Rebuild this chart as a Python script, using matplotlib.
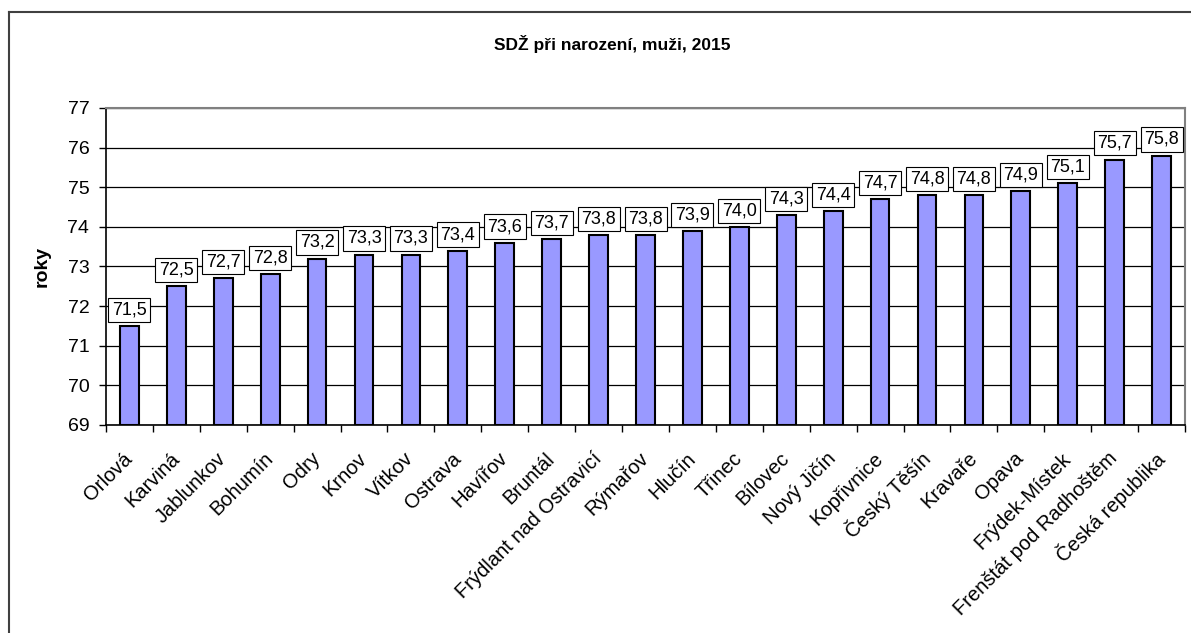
import numpy as np
import matplotlib.pyplot as plt
from matplotlib.lines import Line2D

plt.rcParams['font.family'] = ['Liberation Sans', 'DejaVu Sans']

OUTFILE = "out.png"

# ---------------- Data ----------------
regions = ["Orlová", "Karviná", "Jablunkov", "Bohumín", "Odry", "Krnov", "Vítkov",
           "Ostrava", "Havířov", "Bruntál", "Frýdlant nad Ostravicí", "Rýmařov",
           "Hlučín", "Třinec", "Bílovec", "Nový Jičín", "Kopřivnice", "Český Těšín",
           "Kravaře", "Opava", "Frýdek-Místek", "Frenštát pod Radhoštěm", "Česká republika"]
life_exp = [71.5, 72.5, 72.7, 72.8, 73.2, 73.3, 73.3, 73.4, 73.6, 73.7, 73.8, 73.8,
            73.9, 74.0, 74.3, 74.4, 74.7, 74.8, 74.8, 74.9, 75.1, 75.7, 75.8]
y_ticks = [69, 70, 71, 72, 73, 74, 75, 76, 77]

TITLE = "SDŽ při narození, muži, 2015"
YLABEL = "roky"

# ---------------- Plot ----------------
fig = plt.figure(figsize=(11.91, 6.33), dpi=100)
ax = fig.add_axes([0.089, 0.3286, 0.906, 0.5008])

x = np.arange(len(regions))
ax.bar(x, np.array(life_exp) - 69, bottom=69, width=0.4, color="#9999FF",
       edgecolor="black", linewidth=1.5, zorder=3)

# value labels in small white boxes
for xi, v in zip(x, life_exp):
    ax.annotate(f"{v:.1f}".replace(".", ","), (xi, v), xytext=(0, 5.5),
                textcoords="offset points", ha="center", va="bottom", fontsize=13,
                bbox=dict(boxstyle="square,pad=0.2", fc="white", ec="black", lw=0.8),
                zorder=4)

ax.set_xlim(-0.5, len(regions) - 0.5)
ax.set_ylim(69, 77)
ax.set_yticks(y_ticks)
ax.tick_params(axis="y", labelsize=14, length=5, direction="out", width=1, pad=7)
ax.yaxis.grid(True, color="black", linewidth=0.9, zorder=0)
ax.set_axisbelow(True)

# ticks at the category boundaries, labels at centres
ax.set_xticks(np.arange(-0.5, len(regions), 1.0))
ax.set_xticklabels([])
ax.set_xticks(x, minor=True)
ax.set_xticklabels(regions, minor=True, rotation=45, ha="right", va="center",
                   rotation_mode="anchor", fontsize=14.5)
ax.tick_params(axis="x", which="minor", length=0, pad=22)
ax.tick_params(axis="x", which="major", length=5, width=1)

for side in ["top", "right"]:
    ax.spines[side].set_color("#808080")
    ax.spines[side].set_linewidth(1.5)
for side in ["left", "bottom"]:
    ax.spines[side].set_color("black")
    ax.spines[side].set_linewidth(1.2)

ax.set_ylabel(YLABEL, fontsize=14, fontweight="bold", labelpad=12)
fig.text(0.514, 0.930, TITLE, ha="center", va="center", fontsize=12.5, fontweight="bold")

# outer chart frame (only top and left edges visible)
fig.add_artist(Line2D([0.0076, 1.0], [0.981, 0.981], color="#404040", lw=1.5,
                      transform=fig.transFigure))
fig.add_artist(Line2D([0.0076, 0.0076], [0.0, 0.981], color="#404040", lw=1.5,
                      transform=fig.transFigure))

fig.savefig(OUTFILE, dpi=100)
